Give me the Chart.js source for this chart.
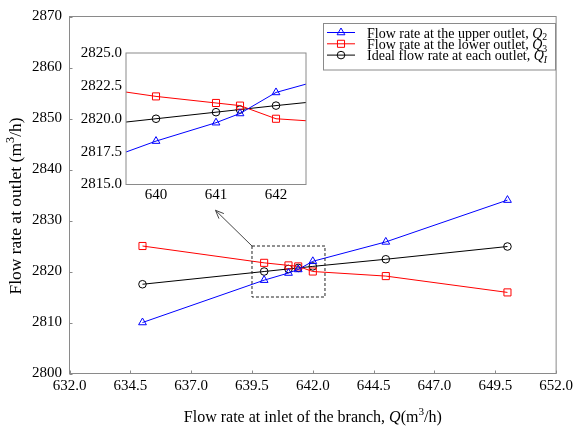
<!DOCTYPE html>
<html>
<head>
<meta charset="utf-8">
<script src="https://cdn.jsdelivr.net/npm/chart.js@4.4.0/dist/chart.umd.min.js"></script>
<style>
  body { margin: 0; background: #fff; }
  #wrap { position: relative; width: 577px; height: 428px; }
  #mainChart { position: absolute; left: 0; top: 0; }
  #insetChart { position: absolute; left: 70px; top: 40px; }
</style>
</head>
<body>
<div id="wrap">
  <canvas id="mainChart" width="577" height="428"></canvas>
  <canvas id="insetChart" width="250" height="170"></canvas>
</div>
<script>
// inlet flow Q and outlet flow rates, m3/h
const inletFlow   = [635, 640, 641, 641.4, 642, 645, 650];
const upperOutlet = [2810.0, 2818.3, 2819.7, 2820.4, 2822.0, 2825.8, 2834.0];
const lowerOutlet = [2825.0, 2821.7, 2821.2, 2821.0, 2820.0, 2819.1, 2815.9];
const idealOutlet = [2817.5, 2820.0, 2820.5, 2820.7, 2821.0, 2822.4, 2824.9];

const xTicks = [632, 634.5, 637, 639.5, 642, 644.5, 647, 649.5, 652];
const yTicks = [2800, 2810, 2820, 2830, 2840, 2850, 2860, 2870];
const insetXTicks = [640, 641, 642];
const insetYTicks = [2815, 2817.5, 2820, 2822.5, 2825];

// zoomed window shown in the inset
const zoomX = [639.5, 642.5];
const zoomY = [2815, 2825];

const seriesLabels = ['Flow rate at the upper outlet, ', 'Flow rate at the lower outlet, ', 'Ideal flow rate at each outlet, '];
const seriesSubs = ['2', '3', 'I'];

const styles = [
  { color: '#0000ff', marker: 'triangle', radius: 4.5 },
  { color: '#ff0000', marker: 'rect', radius: 5 },
  { color: '#000000', marker: 'circle', radius: 3.8 }
];

const SERIF = '"Liberation Serif", "Times New Roman", serif';
const AXIS_GRAY = '#8a8a8a';

function font(size, italic) {
  return (italic ? 'italic ' : '') + size + 'px ' + SERIF;
}

function makeDatasets() {
  return [upperOutlet, lowerOutlet, idealOutlet].map((vals, i) => ({
    data: inletFlow.map((q, j) => ({ x: q, y: vals[j] })),
    borderColor: styles[i].color,
    borderWidth: 1,
    pointStyle: styles[i].marker,
    pointRadius: styles[i].radius,
    pointBorderColor: styles[i].color,
    pointBackgroundColor: 'rgba(0,0,0,0)',
    pointBorderWidth: 1,
    tension: 0,
    fill: false
  }));
}

// text with italic / sub / sup pieces: [text, style]
function drawRich(ctx, parts, x, y, size, align) {
  const pieces = parts.map(([t, s]) => {
    const small = s === 'sub' || s === 'isub' || s === 'sup';
    const f = font(small ? size * 0.7 : size, s === 'i' || s === 'isub');
    ctx.font = f;
    let dy = 0;
    if (s === 'sup') dy = -size * 0.4;
    if (s === 'sub' || s === 'isub') dy = size * 0.2;
    return { t, f, dy, w: ctx.measureText(t).width };
  });
  const total = pieces.reduce((a, p) => a + p.w, 0);
  let cx = align === 'center' ? x - total / 2 : x;
  ctx.textAlign = 'left';
  ctx.textBaseline = 'alphabetic';
  pieces.forEach(p => {
    ctx.font = p.f;
    ctx.fillText(p.t, cx, y + p.dy);
    cx += p.w;
  });
}

function fixedTicks(list) {
  return scale => { scale.ticks = list.map(v => ({ value: v })); };
}

const mainDecor = {
  id: 'mainDecor',
  afterDraw(chart) {
    const { ctx, chartArea: a, scales: { x, y } } = chart;
    ctx.save();

    // box and inward ticks
    ctx.strokeStyle = AXIS_GRAY;
    ctx.lineWidth = 1;
    ctx.strokeRect(a.left, a.top, a.right - a.left, a.bottom - a.top);
    ctx.beginPath();
    xTicks.forEach(v => {
      const px = Math.round(x.getPixelForValue(v)) + 0.5;
      ctx.moveTo(px, a.bottom); ctx.lineTo(px, a.bottom - 3);
    });
    yTicks.forEach(v => {
      const py = Math.round(y.getPixelForValue(v)) + 0.5;
      ctx.moveTo(a.left, py); ctx.lineTo(a.left + 3, py);
    });
    ctx.stroke();

    // dashed window
    const bx0 = x.getPixelForValue(zoomX[0]), bx1 = x.getPixelForValue(zoomX[1]);
    const by0 = y.getPixelForValue(zoomY[1]), by1 = y.getPixelForValue(zoomY[0]);
    ctx.strokeStyle = '#222';
    ctx.setLineDash([3, 2]);
    ctx.strokeRect(bx0, by0, bx1 - bx0, by1 - by0);
    ctx.setLineDash([]);

    // arrow from window corner towards the inset
    const tx = x.getPixelForValue(638.0), ty = y.getPixelForValue(2832.0);
    ctx.strokeStyle = '#444';
    ctx.beginPath();
    ctx.moveTo(bx0, by0); ctx.lineTo(tx, ty);
    const ang = Math.atan2(ty - by0, tx - bx0);
    [0.4, -0.4].forEach(d => {
      ctx.moveTo(tx, ty);
      ctx.lineTo(tx - 9 * Math.cos(ang + d), ty - 9 * Math.sin(ang + d));
    });
    ctx.stroke();

    // axis titles
    ctx.fillStyle = '#000';
    drawRich(ctx, [['Flow rate at inlet of the branch, ', ''], ['Q', 'i'], ['(m', ''], ['3', 'sup'], ['/h)', '']],
      (a.left + a.right) / 2, 421.5, 16, 'center');
    ctx.save();
    ctx.translate(20.5, 206);
    ctx.rotate(-Math.PI / 2);
    drawRich(ctx, [['Flow rate at outlet (m', ''], ['3', 'sup'], ['/h)', '']], 0, 0, 17.5, 'center');
    ctx.restore();

    // legend
    const lx = 323.5, ly = 23.5, lw = 232, lh = 46.5;
    ctx.fillStyle = '#fff';
    ctx.fillRect(lx, ly, lw, lh);
    ctx.strokeStyle = AXIS_GRAY;
    ctx.strokeRect(lx, ly, lw, lh);
    seriesLabels.forEach((label, i) => {
      const base = 37.5 + i * 11.3;
      const my = base - 5;
      const st = styles[i];
      ctx.strokeStyle = st.color;
      ctx.beginPath();
      ctx.moveTo(327, my); ctx.lineTo(355, my);
      ctx.stroke();
      ctx.fillStyle = 'rgba(0,0,0,0)';
      Chart.helpers.drawPoint(ctx, { pointStyle: st.marker, radius: st.radius, borderWidth: 1, rotation: 0 }, 341, my);
      ctx.fillStyle = '#000';
      drawRich(ctx, [[label, ''], ['Q', 'i'], [seriesSubs[i], i === 2 ? 'isub' : 'sub']], 367, base, 14, 'left');
    });

    ctx.restore();
  }
};

const insetDecor = {
  id: 'insetDecor',
  afterDraw(chart) {
    const { ctx, chartArea: a } = chart;
    ctx.save();
    ctx.strokeStyle = AXIS_GRAY;
    ctx.lineWidth = 1;
    ctx.strokeRect(a.left, a.top, a.right - a.left, a.bottom - a.top);
    ctx.restore();
  }
};

const tickFont = { family: SERIF, size: 15 };

new Chart(document.getElementById('mainChart'), {
  type: 'line',
  data: { datasets: makeDatasets() },
  options: {
    responsive: false,
    animation: false,
    layout: { padding: { left: 0, top: 15.5, right: 19.5, bottom: 0 } },
    scales: {
      x: {
        type: 'linear', min: 632, max: 652,
        afterBuildTicks: fixedTicks(xTicks),
        afterFit: s => { s.height = 54.5; },
        grid: { display: false, drawTicks: false },
        border: { display: false },
        ticks: { font: tickFont, color: '#000', padding: 4, maxRotation: 0, autoSkip: false,
                 callback: v => v.toFixed(1) }
      },
      y: {
        type: 'linear', min: 2800, max: 2870,
        afterBuildTicks: fixedTicks(yTicks),
        afterFit: s => { s.width = 69.5; },
        grid: { display: false, drawTicks: false },
        border: { display: false },
        ticks: { font: tickFont, color: '#000', padding: 7.5, callback: v => String(v) }
      }
    },
    plugins: { legend: { display: false }, tooltip: { enabled: false } }
  },
  plugins: [mainDecor]
});

new Chart(document.getElementById('insetChart'), {
  type: 'line',
  data: { datasets: makeDatasets() },
  options: {
    responsive: false,
    animation: false,
    layout: { padding: { left: 0, top: 10.5, right: 14, bottom: 0 } },
    scales: {
      x: {
        type: 'linear', min: zoomX[0], max: zoomX[1],
        afterBuildTicks: fixedTicks(insetXTicks),
        afterFit: s => { s.height = 25.5; },
        grid: { display: false, drawTicks: false },
        border: { display: false },
        ticks: { font: tickFont, color: '#000', padding: 2, maxRotation: 0, autoSkip: false,
                 callback: v => String(v) }
      },
      y: {
        type: 'linear', min: zoomY[0], max: zoomY[1],
        afterBuildTicks: fixedTicks(insetYTicks),
        afterFit: s => { s.width = 56; },
        grid: { display: false, drawTicks: false },
        border: { display: false },
        ticks: { font: tickFont, color: '#000', padding: 4, callback: v => v.toFixed(1) }
      }
    },
    plugins: { legend: { display: false }, tooltip: { enabled: false } }
  },
  plugins: [insetDecor]
});
</script>
</body>
</html>
